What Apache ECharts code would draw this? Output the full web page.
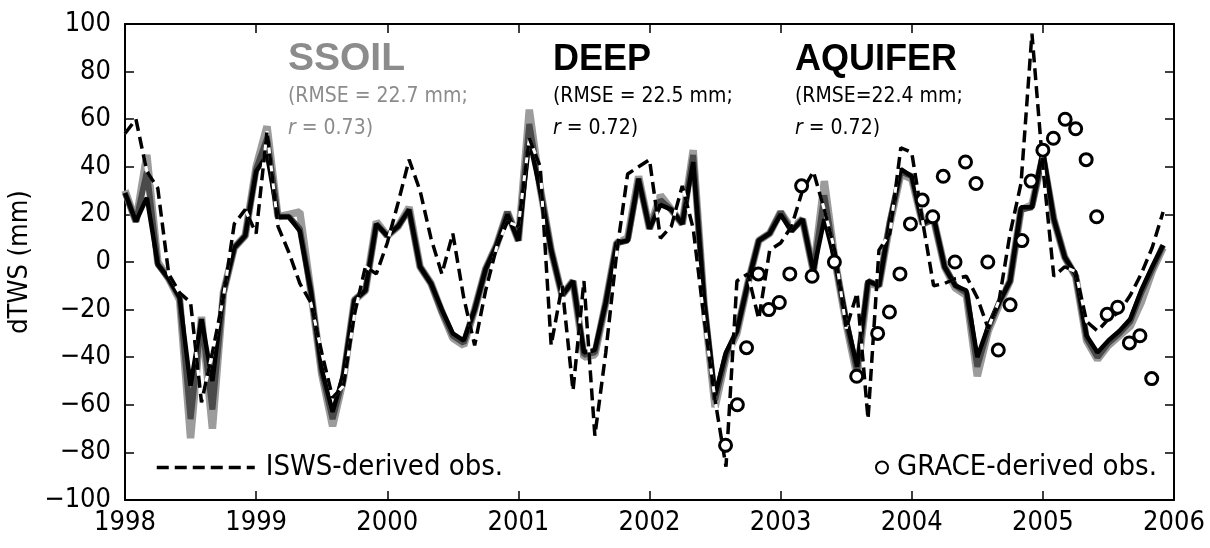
<!DOCTYPE html>
<html>
<head>
<meta charset="utf-8">
<title>dTWS</title>
<script src="https://cdn.jsdelivr.net/npm/echarts@6/dist/echarts.min.js"></script>
<style>
  html, body { margin: 0; padding: 0; background: #fff; }
  #chart { width: 1210px; height: 548px; }
</style>
</head>
<body>
<div id="chart"></div>
<script>
// monthly series, Jan 1998 .. Dec 2005
var startYear = 1998;

var aquifer = [29, 17, 27, -1, -7, -15, -52, -24, -50, -13, 6, 11,
               38, 45, 19, 19, 13, -12, -45, -63, -47, -16, -12, 16,
               11, 15, 22, -2, -9, -20, -30, -33, -20, -3, 7, 20,
               9, 51, 30, 5, -14, -8, -38, -37, -17, 8, 9, 35,
               14, 24, 22, 16, 42, -16, -56, -38, -29, -9, 9, 12,
               20, 13, 18, -4, 18, 0, -24, -44, -8, -10, 17, 39,
               36, 16, 19, -2, -10, -12, -40, -27, -17, -8, 23, 23,
               47, 18, 2, -5, -31, -38, -33, -29, -24, -12, -2, 7];

var deep = [29, 17, 38, -1, -7, -15, -66, -24, -62, -13, 6, 11,
            39, 52, 19, 19, 14, -12, -46, -66, -48, -16, -12, 16,
            11, 15, 22, -2, -9, -21, -31, -34, -20, -3, 7, 21,
            9, 58, 31, 5, -14, -8, -39, -38, -17, 8, 9, 35,
            14, 26, 22, 16, 45, -17, -58, -39, -29, -9, 9, 12,
            21, 13, 18, -4, 28, 0, -25, -46, -8, -10, 17, 38,
            36, 16, 18, -2, -10, -13, -44, -28, -17, -8, 22, 23,
            45, 18, 2, -6, -32, -40, -34, -30, -25, -13, -3, 7];

var ssoil = [30, 17, 45, 0, -7, -16, -74, -23, -70, -13, 6, 11,
             40, 57, 19, 20, 21, -12, -47, -69, -49, -16, -12, 17,
             11, 15, 23, -2, -9, -21, -32, -35, -20, -3, 7, 21,
             9, 64, 31, 5, -14, -8, -40, -39, -17, 8, 10, 36,
             14, 28, 22, 16, 47, -18, -61, -40, -30, -9, 9, 12,
             21, 14, 18, -4, 34, 0, -26, -48, -9, -10, 16, 37,
             35, 16, 18, -2, -11, -14, -48, -29, -18, -8, 22, 24,
             44, 18, 2, -6, -33, -41, -35, -31, -27, -17, -4, 6];

var isws = [54, 60, 38, 31, -5, -13, -17, -59, -38, -15, 16, 22,
            12, 55, 15, 4, -9, -17, -38, -57, -52, -22, -2, -5,
            8, 25, 43, 30, 10, -5, 12, -15, -35, -12, 6, 17,
            15, 52, 40, -35, -10, -54, -8, -73, -38, 4, 37, 40,
            43, 10, 15, 32, 14, -24, -58, -86, -8, -5, -24, 5,
            8, 15, 30, 38, 22, 4, -28, -13, -66, 5, 12, 48,
            46, 17, -10, -9, -7, -6, -15, -28, -16, 12, 33, 96,
            40, -6, -2, -4, -25, -29, -24, -21, -14, -5, 6, 21];

var graceTime = [2002.58, 2002.67, 2002.74, 2002.83, 2002.91, 2002.99, 2003.07, 2003.16, 2003.24,
                 2003.41, 2003.58, 2003.74, 2003.83, 2003.91, 2003.99, 2004.08, 2004.16, 2004.24,
                 2004.33, 2004.41, 2004.49, 2004.58, 2004.66, 2004.75, 2004.84, 2004.91, 2005.00,
                 2005.08, 2005.17, 2005.25, 2005.33, 2005.41, 2005.49, 2005.57, 2005.66, 2005.74, 2005.83];
var graceVal = [-77, -60, -36, -5, -20, -17, -5, 32, -6,
                0, -48, -30, -21, -5, 16, 26, 19, 36,
                0, 42, 33, 0, -37, -18, 9, 34, 47,
                52, 60, 56, 43, 19, -22, -19, -34, -31, -49];

var yearTicks = [1998, 1999, 2000, 2001, 2002, 2003, 2004, 2005, 2006];

var narrow = "'Liberation Sans Narrow', 'Arial Narrow', 'DejaVu Sans Condensed', 'Liberation Sans', sans-serif";
var boldFont = "'Liberation Sans', Arial, sans-serif";

function monthly(vals) {
    var out = [];
    for (var i = 0; i < vals.length; i++) {
        out.push([startYear + i / 12, vals[i]]);
    }
    return out;
}

function pairs(xs, ys) {
    var out = [];
    for (var i = 0; i < xs.length; i++) {
        out.push([xs[i], ys[i]]);
    }
    return out;
}

var chart = echarts.init(document.getElementById('chart'));

var baseX = {
    type: 'value',
    min: yearTicks[0],
    max: yearTicks[yearTicks.length - 1],
    interval: 1,
    axisLine: { show: true, onZero: false, lineStyle: { color: '#000', width: 2 } },
    axisTick: { show: true, inside: true, length: 9, lineStyle: { color: '#000', width: 1.5 } },
    splitLine: { show: false }
};
var baseY = {
    type: 'value',
    min: -100,
    max: 100,
    interval: 20,
    axisLine: { show: true, onZero: false, lineStyle: { color: '#000', width: 2 } },
    axisTick: { show: true, inside: true, length: 9, lineStyle: { color: '#000', width: 1.5 } },
    splitLine: { show: false }
};

chart.setOption({
    animation: false,
    backgroundColor: '#fff',
    grid: { left: 125, right: 36, top: 24, bottom: 48, outerBoundsMode: 'none', containLabel: false },
    xAxis: [
        Object.assign({}, baseX, {
            position: 'bottom',
            axisLabel: {
                color: '#000', fontSize: 27, fontFamily: narrow, margin: 9,
                formatter: function(v) { return String(v); }
            }
        }),
        Object.assign({}, baseX, { position: 'top', axisLabel: { show: false } })
    ],
    yAxis: [
        Object.assign({}, baseY, {
            position: 'left',
            name: 'dTWS (mm)',
            nameLocation: 'middle',
            nameGap: 76,
            nameTextStyle: { color: '#000', fontSize: 27, fontFamily: narrow },
            axisLabel: {
                color: '#000', fontSize: 27, fontFamily: narrow, margin: 14,
                formatter: function(v) { return String(v).replace('-', '\u2212'); }
            }
        }),
        Object.assign({}, baseY, { position: 'right', axisLabel: { show: false } })
    ],
    legend: [
        {
            data: ['ISWS-derived obs.'],
            left: 150, top: 448,
            itemWidth: 98, itemHeight: 14, itemGap: 10,
            itemStyle: { opacity: 0 },
            lineStyle: { width: 3.5, type: [12, 6], color: '#000' },
            textStyle: { color: '#000', fontSize: 29, fontFamily: narrow, padding: [0, 0, 0, 6] }
        },
        {
            data: ['GRACE-derived obs.'],
            left: 870, top: 448,
            itemWidth: 12, itemHeight: 12, itemGap: 6,
            textStyle: { color: '#000', fontSize: 29, fontFamily: narrow, padding: [0, 0, 0, 4] }
        }
    ],
    graphic: [
        { type: 'text', left: 288, top: 40, style: { text: 'SSOIL', fill: '#8c8c8c', font: 'bold 39px ' + boldFont } },
        { type: 'text', left: 288, top: 86, style: { text: '(RMSE = 22.7 mm;', fill: '#8c8c8c', font: '21px ' + narrow } },
        { type: 'text', left: 288, top: 118, style: { text: '{i|r} = 0.73)', fill: '#8c8c8c', font: '21px ' + narrow,
            rich: { i: { fontStyle: 'italic', fontSize: 21, fontFamily: narrow, fill: '#8c8c8c' } } } },
        { type: 'text', left: 553, top: 42, style: { text: 'DEEP', fill: '#000', font: 'bold 36px ' + boldFont } },
        { type: 'text', left: 553, top: 86, style: { text: '(RMSE = 22.5 mm;', fill: '#000', font: '21px ' + narrow } },
        { type: 'text', left: 553, top: 118, style: { text: '{i|r} = 0.72)', fill: '#000', font: '21px ' + narrow,
            rich: { i: { fontStyle: 'italic', fontSize: 21, fontFamily: narrow, fill: '#000' } } } },
        { type: 'text', left: 795, top: 42, style: { text: 'AQUIFER', fill: '#000', font: 'bold 36px ' + boldFont } },
        { type: 'text', left: 795, top: 86, style: { text: '(RMSE=22.4 mm;', fill: '#000', font: '21px ' + narrow } },
        { type: 'text', left: 795, top: 118, style: { text: '{i|r} = 0.72)', fill: '#000', font: '21px ' + narrow,
            rich: { i: { fontStyle: 'italic', fontSize: 21, fontFamily: narrow, fill: '#000' } } } }
    ],
    series: [
        {
            name: 'SSOIL', type: 'line', data: monthly(ssoil), showSymbol: false, z: 2,
            lineStyle: { color: '#9c9c9c', width: 7.5 }
        },
        {
            name: 'DEEP', type: 'line', data: monthly(deep), showSymbol: false, z: 3,
            lineStyle: { color: '#4a4a4a', width: 6 }
        },
        {
            name: 'AQUIFER', type: 'line', data: monthly(aquifer), showSymbol: false, z: 4,
            lineStyle: { color: '#000', width: 4.5 }
        },
        {
            // white underlay so the dashes show gaps over the model lines
            name: 'isws-under', type: 'line', data: monthly(isws), symbol: 'none', z: 5,
            lineStyle: { color: '#fff', width: 3 }
        },
        {
            name: 'ISWS-derived obs.', type: 'line', data: monthly(isws), symbol: 'none', z: 6,
            lineStyle: { color: '#000', width: 3.5, type: [12, 6] },
            itemStyle: { color: '#000' }
        },
        {
            name: 'GRACE-derived obs.', type: 'scatter', data: pairs(graceTime, graceVal), z: 7,
            symbol: 'circle', symbolSize: 12,
            itemStyle: { color: '#fff', borderColor: '#000', borderWidth: 3, opacity: 1 }
        }
    ]
});
</script>
</body>
</html>
